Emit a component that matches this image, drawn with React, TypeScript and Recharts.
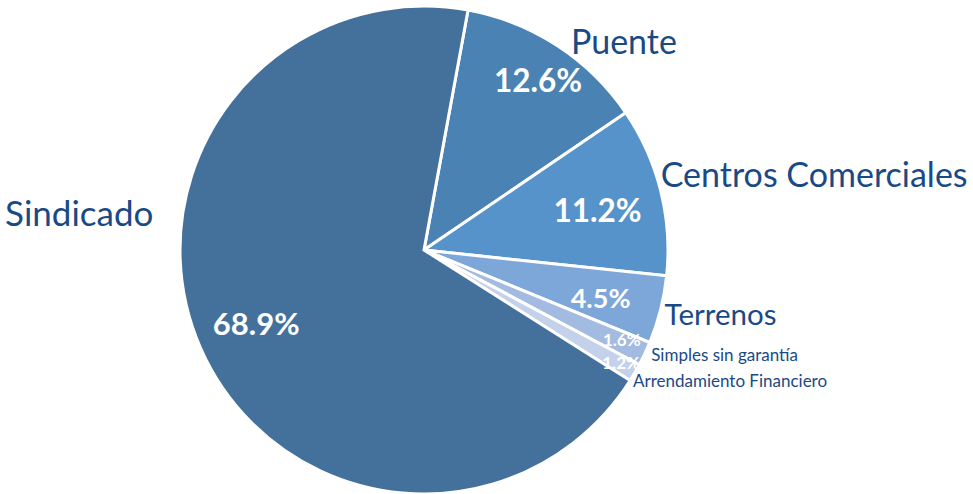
import { PieChart, Pie, Cell } from 'recharts'

// loan portfolio share by product, clockwise from the top
const categories = ['Puente', 'Centros Comerciales', 'Terrenos', 'Simples sin garantía', 'Arrendamiento Financiero', 'Sindicado']
const shares = [12.6, 11.2, 4.5, 1.6, 1.2, 68.9]
const colors = ['#4A82B4', '#5593CA', '#7DA6D9', '#A3BBE0', '#C3D2EA', '#44719B']

const data = categories.map((name, i) => ({ name, value: shares[i] }))

// label placement: polar angle (deg) and radius (fraction of outer radius)
const nameLayout = [
  { angle: 55, r: 1.05, size: 34, anchor: 'start' },
  { angle: 18, r: 1.02, size: 34, anchor: 'start' },
  { angle: -14.8, r: 1.02, size: 29.5, anchor: 'start' },
  { angle: -24.7, r: 1.025, size: 17, anchor: 'start' },
  { angle: -32, r: 1.01, size: 17, anchor: 'start' },
  { angle: 172, r: 1.12, size: 35, anchor: 'end' },
]
const pctLayout = [
  { r: 0.84, angle: 56.2, size: 31.5 },
  { r: 0.73, angle: 13, size: 31.5 },
  { r: 0.75, angle: -15.2, size: 27 },
  { r: 0.89, angle: -24.4, size: 17 },
  { r: 0.93, angle: -29.7, size: 17 },
  { r: 0.75, angle: -156.5, size: 31 },
]

const FONT = 'Lato, "Open Sans", sans-serif'
const RAD = Math.PI / 180

function renderLabel(props: any) {
  const { cx, cy, outerRadius, index, value } = props
  const n = nameLayout[index]
  const p = pctLayout[index]
  const nx = cx + outerRadius * n.r * Math.cos(n.angle * RAD)
  const ny = cy - outerRadius * n.r * Math.sin(n.angle * RAD)
  const px = cx + outerRadius * p.r * Math.cos(p.angle * RAD)
  const py = cy - outerRadius * p.r * Math.sin(p.angle * RAD)
  return (
    <g>
      <text x={px} y={py} fill="#fff" fontSize={p.size} fontWeight={700} fontFamily={FONT}
        textAnchor="middle" dominantBaseline="central">
        {value.toFixed(1)}%
      </text>
      <text x={nx} y={ny} fill="#1A4A85" fontSize={n.size} fontFamily={FONT}
        textAnchor={n.anchor as any} dominantBaseline="central">
        {categories[index]}
      </text>
    </g>
  )
}

export default function App() {
  return (
    <div style={{ position: 'absolute', left: 0, top: 0, width: 973, height: 494, background: '#fff' }}>
      <PieChart width={973} height={494} margin={{ top: 0, right: 0, bottom: 0, left: 0 }}>
        <Pie
          data={data}
          dataKey="value"
          nameKey="name"
          cx={424}
          cy={250}
          outerRadius={244}
          startAngle={79.6}
          endAngle={-280.4}
          stroke="#fff"
          strokeWidth={3}
          label={renderLabel}
          labelLine={false}
          isAnimationActive={false}
        >
          {data.map((d, i) => (
            <Cell key={d.name} fill={colors[i]} />
          ))}
        </Pie>
      </PieChart>
    </div>
  )
}
